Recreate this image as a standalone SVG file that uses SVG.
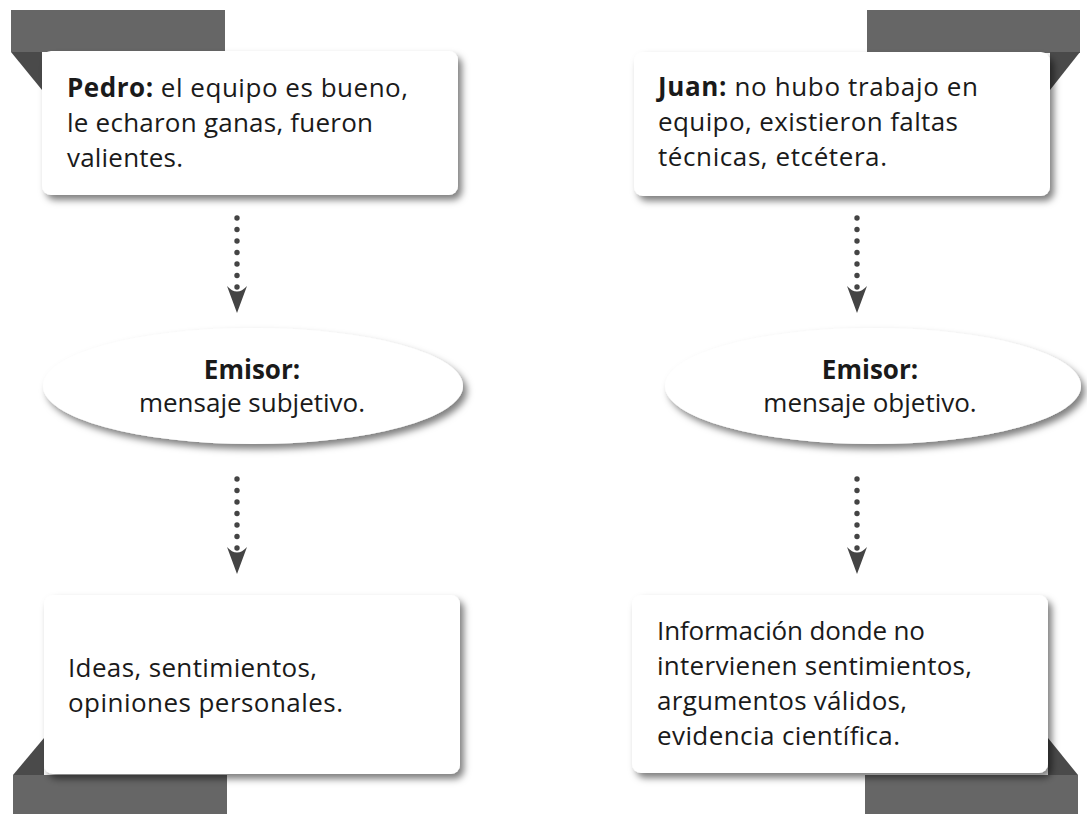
<svg xmlns="http://www.w3.org/2000/svg" width="1087" height="814" viewBox="0 0 1087 814">
<defs>
<style>
.bar{fill:#666666}
.fold{fill:#4a4a4a}
.card{fill:#ffffff;filter:url(#sh)}
.t{font-family:"Open Sans","Noto Sans",sans-serif;font-size:26px;fill:#1a1a1a}
.b{font-weight:bold}
.dot{fill:#444444}
.head{fill:#444444}
</style>
<filter id="sh" x="-10%" y="-20%" width="125%" height="150%">
<feDropShadow dx="4" dy="5" stdDeviation="3.5" flood-color="#000" flood-opacity="0.5"/>
</filter>
<g id="arrow">
<circle class="dot" cx="0" cy="0" r="2.7"/>
<circle class="dot" cx="0" cy="11.5" r="2.7"/>
<circle class="dot" cx="0" cy="23" r="2.7"/>
<circle class="dot" cx="0" cy="34.5" r="2.7"/>
<circle class="dot" cx="0" cy="46" r="2.7"/>
<circle class="dot" cx="0" cy="57.5" r="2.7"/>
<circle class="dot" cx="0" cy="69" r="2.7"/>
<path class="head" d="M0,95 L-10,68 Q0,79 10,68 Z"/>
</g>
</defs>
<rect width="1087" height="814" fill="#ffffff"/>

<g id="node-pedro">
<rect class="bar" x="11" y="10" width="214" height="42"/>
<polygon class="fold" points="11,52 42,52 42,90"/>
<rect class="card" x="42" y="51" width="416" height="144" rx="9"/>
<text class="t" x="67" y="97" textLength="341"><tspan class="b">Pedro:</tspan> el equipo es bueno,</text>
<text class="t" x="67" y="132" textLength="306">le echaron ganas, fueron</text>
<text class="t" x="67" y="167" textLength="116">valientes.</text>
</g>

<g id="node-juan">
<rect class="bar" x="867" y="10" width="213" height="43"/>
<polygon class="fold" points="1050,52 1080,52 1050,90"/>
<rect class="card" x="634" y="52" width="416" height="144" rx="9"/>
<text class="t" x="658" y="96" textLength="320"><tspan class="b">Juan:</tspan> no hubo trabajo en</text>
<text class="t" x="658" y="131" textLength="300">equipo, existieron faltas</text>
<text class="t" x="658" y="166" textLength="229">técnicas, etcétera.</text>
</g>

<g id="node-emisor-subjetivo">
<ellipse class="card" cx="253" cy="386" rx="210" ry="58"/>
<text class="t b" x="252" y="379" text-anchor="middle">Emisor:</text>
<text class="t" x="252" y="412" text-anchor="middle">mensaje subjetivo.</text>
</g>

<g id="node-emisor-objetivo">
<ellipse class="card" cx="873" cy="386" rx="208" ry="58"/>
<text class="t b" x="870" y="379" text-anchor="middle">Emisor:</text>
<text class="t" x="870" y="412" text-anchor="middle">mensaje objetivo.</text>
</g>

<g id="node-ideas">
<rect class="bar" x="13" y="775" width="214" height="39"/>
<polygon class="fold" points="13,775 44,738 44,775"/>
<rect class="card" x="44" y="595" width="416" height="179" rx="9"/>
<text class="t" x="68" y="677" textLength="249">Ideas, sentimientos,</text>
<text class="t" x="68" y="712" textLength="275">opiniones personales.</text>
</g>

<g id="node-informacion">
<rect class="bar" x="865" y="775" width="213" height="39"/>
<polygon class="fold" points="1048,738 1078,775 1048,775"/>
<rect class="card" x="632" y="595" width="416" height="178" rx="9"/>
<text class="t" x="657" y="640" textLength="268">Información donde no</text>
<text class="t" x="657" y="675" textLength="315">intervienen sentimientos,</text>
<text class="t" x="657" y="710" textLength="250">argumentos válidos,</text>
<text class="t" x="657" y="745" textLength="243">evidencia científica.</text>
</g>

<g id="connectors">
<use href="#arrow" x="237" y="218"/>
<use href="#arrow" x="237" y="479"/>
<use href="#arrow" x="857" y="218"/>
<use href="#arrow" x="857" y="479"/>
</g>
</svg>
